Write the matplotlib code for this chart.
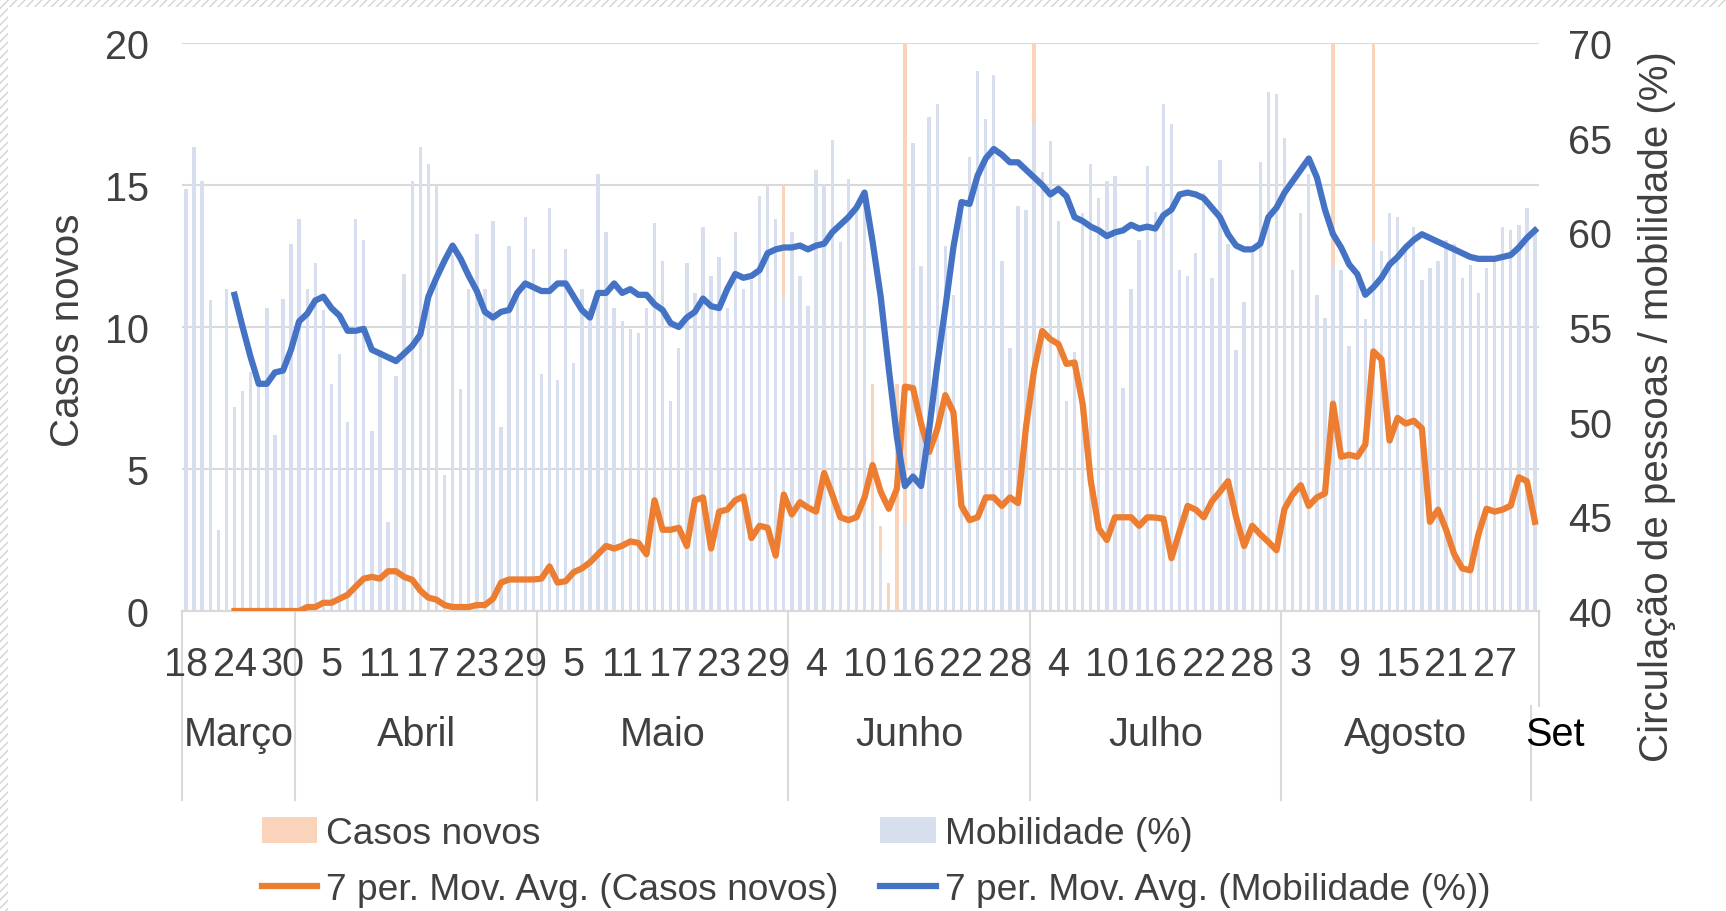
import matplotlib
matplotlib.use("Agg")
import matplotlib.pyplot as plt
import matplotlib.transforms as mtransforms
from matplotlib.lines import Line2D
from matplotlib.patches import Patch, Rectangle

plt.rcParams["font.family"] = ["Liberation Sans", "DejaVu Sans"]
plt.rcParams["hatch.linewidth"] = 1.0

# Série diária de 18/03 a 01/09
casos = [
    0, 0, 0, 0, 0, 0, 0, 0, 0, 0, 0, 0, 0, 0, 0,
    1, 0, 1, 0, 1, 1, 2, 2, 1, 0, 2, 2, 0, 1,
    0, 0, 0, 0, 0, 1, 0, 0, 0, 2,
    5, 1, 0, 0, 0, 0, 3, 0, 1, 2, 1,
    3, 3, 4, 1, 3, 2, 2, 0,
    9, 1, 2, 4, 0, 9, 2, 3, 10, 1, 5, 3, 2,
    3, 2, 3, 15, 4, 5, 3, 2, 9, 2, 1, 3, 2, 5,
    8, 3, 1, 8,
    22, 4, 2, 6, 9, 3, 5,
    1, 2, 4, 5, 2, 3, 4, 2,
    8, 24, 13, 3, 5, 7, 8, 2,
    2, 3, 1, 4, 3, 3, 2, 2, 4, 3,
    0, 3, 6, 3, 4, 5, 3, 2, 2, 4, 2, 3, 4, 1,
    5, 6, 5, 2, 4, 4,
    21, 2, 3, 4, 5, 25,
    4, 3, 5, 4, 5, 3,
    1, 4, 2, 1, 2, 1, 3, 6, 3, 2, 4, 8, 4, 1,
]
mobilidade = [
    62.3, 64.5, 62.7, 56.4, 44.3, 57.0, 50.8, 51.6, 52.6, 52.2,
    56.0, 49.3, 56.5, 59.4, 60.7, 57.0, 58.4, 55.9, 52.0, 53.6,
    50.0, 60.7, 59.6, 49.5, 53.8, 44.7, 52.4, 57.8, 62.7, 64.5,
    63.6, 62.5, 47.2, 58.8, 51.7, 57.0, 59.9, 57.0, 60.6, 49.7,
    59.3, 57.0, 60.8, 59.1, 52.5, 61.3, 52.2, 59.1, 53.1, 57.0,
    56.0, 63.1, 60.0, 56.0, 55.3, 54.9, 54.7, 56.0, 60.5, 58.5,
    51.1, 53.9, 58.4, 56.8, 60.3, 57.7, 58.7, 56.0, 60.0, 57.0,
    57.5, 61.9, 62.5, 60.7, 56.7, 60.0, 57.7, 56.1, 63.3, 62.5,
    64.9, 59.5, 62.8, 61.2, 61.7, 45.1, 43.0, 38.3, 34.3, 44.6,
    64.7, 58.2, 66.1, 66.8, 59.3, 56.7, 61.4, 64.0, 68.5, 66.0,
    68.3, 58.5, 53.9, 61.4, 61.2, 65.7, 63.2, 64.8, 60.6, 51.1,
    53.7, 61.0, 63.6, 61.8, 62.7, 63.0, 51.8, 57.0, 59.6, 63.5,
    61.1, 66.8, 65.7, 58.0, 57.7, 58.9, 62.1, 57.6, 63.8, 59.4,
    53.8, 56.3, 58.9, 63.7, 67.4, 67.3, 65.0, 58.0, 61.0, 63.1,
    56.7, 55.5, 58.2, 58.0, 54.0, 57.5, 55.4, 59.5, 59.0, 61.0,
    60.8, 59.0, 60.3, 57.5, 58.1, 58.5, 59.6, 59.4, 57.6, 58.3,
    56.8, 58.1, 58.5, 60.3, 60.1, 60.4, 61.3, 60.3,
]
# Médias móveis de 7 dias (a partir de 24/03)
mm_casos = [
    0.0, 0.0, 0.0, 0.0, 0.0, 0.0, 0.0, 0.0, 0.0, 0.14,
    0.14, 0.29, 0.29, 0.43, 0.57, 0.86, 1.14, 1.2, 1.14, 1.4,
    1.4, 1.2, 1.1, 0.72, 0.47, 0.4, 0.21, 0.14, 0.14, 0.14,
    0.21, 0.21, 0.43, 1.0, 1.11, 1.11, 1.11, 1.11, 1.14, 1.57,
    1.0, 1.05, 1.37, 1.5, 1.71, 2.0, 2.29, 2.2, 2.3, 2.45,
    2.4, 2.0, 3.9, 2.86, 2.86, 2.93, 2.29, 3.9, 4.0, 2.2,
    3.5, 3.57, 3.9, 4.03, 2.57, 3.0, 2.93, 1.95, 4.1, 3.4,
    3.83, 3.64, 3.5, 4.86, 4.1, 3.3, 3.2, 3.3, 4.0, 5.14,
    4.2, 3.6, 4.3, 7.9, 7.85, 6.6, 5.6, 6.4, 7.6, 7.0,
    3.7, 3.2, 3.3, 4.0, 4.0, 3.7, 4.0, 3.8, 6.5, 8.5,
    9.86, 9.57, 9.4, 8.7, 8.75, 7.3, 4.6, 2.9, 2.5, 3.3,
    3.3, 3.3, 3.0, 3.3, 3.29, 3.25, 1.86, 2.8, 3.7, 3.57,
    3.3, 3.86, 4.2, 4.57, 3.3, 2.29, 3.0, 2.7, 2.43, 2.14,
    3.6, 4.1, 4.43, 3.7, 4.0, 4.14, 7.3, 5.43, 5.5, 5.43,
    5.86, 9.14, 8.86, 6.0, 6.8, 6.6, 6.7, 6.43, 3.14, 3.57,
    2.86, 2.0, 1.5, 1.43, 2.7, 3.6, 3.5, 3.57, 3.71, 4.71,
    4.57, 3.14,
]
mm_mobilidade = [
    56.7, 55.0, 53.4, 52.0, 52.0, 52.6, 52.7, 53.8, 55.3, 55.7,
    56.4, 56.6, 56.0, 55.6, 54.8, 54.8, 54.9, 53.8, 53.6, 53.4,
    53.2, 53.6, 54.0, 54.6, 56.6, 57.6, 58.5, 59.3, 58.6, 57.7,
    56.9, 55.8, 55.5, 55.8, 55.9, 56.8, 57.3, 57.1, 56.9, 56.9,
    57.3, 57.3, 56.6, 55.9, 55.5, 56.8, 56.8, 57.3, 56.8, 57.0,
    56.7, 56.7, 56.2, 55.9, 55.2, 55.0, 55.5, 55.8, 56.5, 56.1,
    56.0, 57.0, 57.8, 57.6, 57.7, 58.0, 58.9, 59.1, 59.2, 59.2,
    59.3, 59.1, 59.3, 59.4, 60.0, 60.4, 60.8, 61.3, 62.1, 59.5,
    56.6, 52.8, 49.2, 46.6, 47.1, 46.6, 49.6, 53.0, 56.0, 59.2,
    61.6, 61.5, 63.0, 63.9, 64.4, 64.1, 63.7, 63.7, 63.3, 62.9,
    62.5, 62.0, 62.3, 61.9, 60.8, 60.6, 60.3, 60.1, 59.8, 60.0,
    60.1, 60.4, 60.2, 60.3, 60.2, 60.9, 61.2, 62.0, 62.1, 62.0,
    61.8, 61.3, 60.8, 59.9, 59.3, 59.1, 59.1, 59.4, 60.8, 61.3,
    62.1, 62.7, 63.3, 63.9, 62.9, 61.2, 59.9, 59.2, 58.3, 57.8,
    56.7, 57.1, 57.6, 58.3, 58.7, 59.2, 59.6, 59.9, 59.7, 59.5,
    59.3, 59.1, 58.9, 58.7, 58.6, 58.6, 58.6, 58.7, 58.8, 59.2,
    59.7, 60.1,
]

dias_rotulo = ["18", "24", "30", "5", "11", "17", "23", "29", "5", "11",
               "17", "23", "29", "4", "10", "16", "22", "28", "4", "10",
               "16", "22", "28", "3", "9", "15", "21", "27"]
meses = ["Março", "Abril", "Maio", "Junho", "Julho", "Agosto", "Set"]
dias_mes = [14, 30, 31, 30, 31, 31, 1]

LARANJA = "#ed7d31"
AZUL = "#4472c4"
LARANJA_BARRA = "#f9d3ba"
AZUL_BARRA = "#d7deed"
CINZA_TXT = "#404040"
CINZA_GRADE = "#d9d9d9"
FS = 28.5
FS_LEG = 26.7

n = len(mobilidade)
x = list(range(n))
x_mm = list(range(n - len(mm_casos), n))

fig = plt.figure(figsize=(17.26, 9.12), dpi=100)
fig.patch.set_facecolor("white")
ax = fig.add_axes([182 / 1726, 1 - 612 / 912, 1357 / 1726, 568 / 912])
ax2 = ax.twinx()
ax.set_zorder(1)
ax2.set_zorder(2)
ax2.patch.set_visible(False)

# barras: casos (eixo esquerdo) por baixo, mobilidade (eixo direito) por cima
ax.bar(x, casos, width=0.42, color=LARANJA_BARRA, zorder=2)
ax2.bar(x, mobilidade, width=0.42, color=AZUL_BARRA, zorder=2)
# linhas de média móvel; a de casos usa a escala do eixo esquerdo
ax2.plot(x_mm, mm_casos, color=LARANJA, lw=4.5, transform=ax.transData,
         solid_joinstyle="round", zorder=3)
ax2.plot(x_mm, mm_mobilidade, color=AZUL, lw=4.5, solid_joinstyle="round", zorder=4)

ax.set_xlim(-0.5, n - 0.5)
ax.set_ylim(0, 20)
ax2.set_ylim(40, 70)
ax.set_yticks([0, 5, 10, 15, 20])
ax2.set_yticks([40, 45, 50, 55, 60, 65, 70])
ax.set_xticks([])
ax.yaxis.grid(True, color=CINZA_GRADE, lw=1.5, zorder=0)
ax.set_axisbelow(True)
ax.tick_params(axis="y", length=0, pad=24, labelsize=FS, labelcolor=CINZA_TXT)
ax2.tick_params(axis="y", length=0, pad=21, labelsize=FS, labelcolor=CINZA_TXT)
for a in (ax, ax2):
    for lado in ("top", "left", "right"):
        a.spines[lado].set_visible(False)
    a.spines["bottom"].set_color(CINZA_GRADE)
    a.spines["bottom"].set_linewidth(1.5)

# eixo de categorias em dois níveis: dias e meses
trans = mtransforms.blended_transform_factory(ax.transData, ax.transAxes)
for pos, rot in zip(range(0, n, 6), dias_rotulo):
    ax.text(pos, -0.094, rot, transform=trans, ha="center", va="center",
            fontsize=FS, color=CINZA_TXT, clip_on=False)

inicio = 0
for mes, nd in zip(meses, dias_mes):
    centro = inicio + (nd - 1) / 2
    cor = CINZA_TXT
    if mes == "Set":
        centro = inicio + 2.5
        cor = "black"
    ax.text(centro, -0.217, mes, transform=trans, ha="center", va="center",
            fontsize=FS, color=cor, clip_on=False)
    if inicio < n - 1:
        ax.plot([inicio - 0.5, inicio - 0.5], [0, -0.333], transform=trans,
                color=CINZA_GRADE, lw=1.5, clip_on=False)
    inicio += nd
ax.plot([n - 0.5, n - 0.5], [0, -0.168], transform=trans, color=CINZA_GRADE,
        lw=1.5, clip_on=False)
ax.plot([n - 1.5, n - 1.5], [-0.168, -0.333], transform=trans, color=CINZA_GRADE,
        lw=1.5, clip_on=False)

fig.text(68 / 1726, 1 - 330 / 912, "Casos novos", rotation=90, ha="center",
         va="center", fontsize=29, color=CINZA_TXT)
fig.text(1657 / 1726, 1 - 407 / 912, "Circulação de pessoas / mobilidade (%)",
         rotation=90, ha="center", va="center", fontsize=29, color=CINZA_TXT)

alcas = [
    Patch(facecolor=LARANJA_BARRA, edgecolor="none"),
    Line2D([], [], color=LARANJA, lw=4.5),
    Patch(facecolor=AZUL_BARRA, edgecolor="none"),
    Line2D([], [], color=AZUL, lw=4.5),
]
rotulos = ["Casos novos", "7 per. Mov. Avg. (Casos novos)",
           "Mobilidade (%)", "7 per. Mov. Avg. (Mobilidade (%))"]
fig.legend(alcas, rotulos, ncol=2, loc="upper left",
           bbox_to_anchor=(262 / 1726, 1 - 817 / 912), frameon=False,
           fontsize=FS_LEG, labelcolor=CINZA_TXT, borderpad=0, handlelength=1.49,
           handleheight=0.7, handletextpad=0.24, columnspacing=1.13,
           labelspacing=0.57, borderaxespad=0)

# moldura tracejada nas bordas
fig.add_artist(Rectangle((0, 1 - 8 / 912), 1, 8 / 912, transform=fig.transFigure,
                         facecolor="white", edgecolor="#d4d4d4", hatch="////", lw=0))
fig.add_artist(Rectangle((0, 0), 8 / 1726, 1, transform=fig.transFigure,
                         facecolor="white", edgecolor="#d4d4d4", hatch="////", lw=0))

fig.savefig("out.png", dpi=100, facecolor="white")
